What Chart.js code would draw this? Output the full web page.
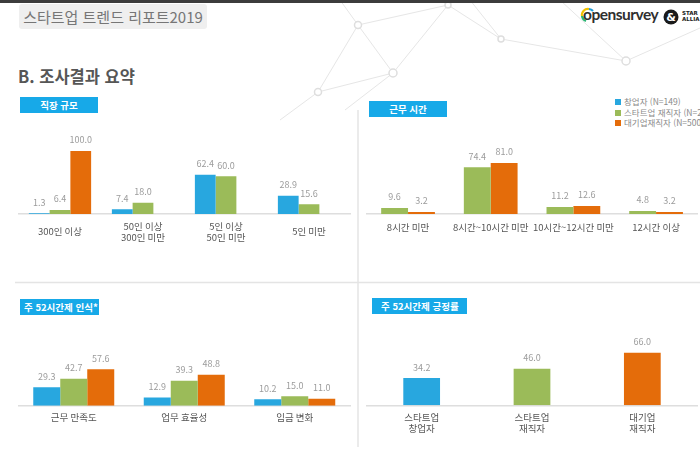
<!DOCTYPE html>
<html lang="ko">
<head>
<meta charset="utf-8">
<script src="https://cdn.jsdelivr.net/npm/chart.js@4.4.1/dist/chart.umd.min.js"></script>
<style>
  html, body { margin: 0; padding: 0; background: #fff; }
  body { width: 700px; height: 451px; position: relative; overflow: hidden;
         font-family: "Noto Sans CJK KR", "Noto Sans", sans-serif; }
  .abs { position: absolute; }
  #topbar { left: 0; top: 0; width: 700px; height: 3px; background: #3c3c3c; }
  #report { left: 19px; top: 4px; width: 188px; height: 25px; background: #efefef; border-radius: 3px;
            color: #767676; font-size: 15px; line-height: 25px; text-align: center; }
  #section { left: 18px; top: 64px; font-size: 16.5px; font-weight: bold; color: #565656; }
  .tag { background: #17a9e8; color: #fff; font-size: 9.5px; font-weight: bold; height: 16px; line-height: 16px; }
  .legend { left: 615px; top: 96px; font-size: 8.5px; color: #8a8a8a; white-space: nowrap; }
  .legend div { height: 10.5px; line-height: 10.5px; }
  .legend span { display: inline-block; width: 6px; height: 6px; margin-right: 3px; vertical-align: 0px; }
  .logo { left: 583px; top: 5px; font-family: "Lato", "Noto Sans", sans-serif; font-weight: bold;
          font-size: 15.5px; color: #2f2f2f; letter-spacing: -0.5px; }
</style>
</head>
<body>
<svg class="abs" style="left:0;top:0" width="700" height="451">
  <g stroke="#e6e6e6" stroke-width="1" fill="none">
    <line x1="340" y1="0" x2="358" y2="25"/>
    <line x1="358" y1="25" x2="393" y2="73"/>
    <line x1="393" y1="73" x2="448" y2="5"/>
    <line x1="448" y1="5" x2="501" y2="39"/>
    <line x1="501" y1="39" x2="626" y2="61"/>
    <line x1="626" y1="61" x2="700" y2="28"/>
    <line x1="318" y1="92" x2="393" y2="73"/>
    <line x1="318" y1="92" x2="358" y2="25"/>
    <line x1="280" y1="120" x2="318" y2="92"/>
    <line x1="358" y1="25" x2="448" y2="5"/>
    <line x1="470" y1="0" x2="501" y2="39"/>
    <line x1="560" y1="0" x2="626" y2="61"/>
    <line x1="345" y1="110" x2="393" y2="73"/>
  </g>
  <g stroke="#dedede" stroke-width="1.5" fill="#fff">
    <circle cx="358" cy="25" r="3.5"/>
    <circle cx="448" cy="5" r="3"/>
    <circle cx="393" cy="73" r="4"/>
    <circle cx="501" cy="39" r="3"/>
    <circle cx="626" cy="61" r="4"/>
    <circle cx="318" cy="92" r="3.5"/>
  </g>
  <line x1="15" y1="282.5" x2="700" y2="282.5" stroke="#e4e4e4" stroke-width="1.5"/>
  <line x1="358" y1="110" x2="358" y2="447" stroke="#e4e4e4" stroke-width="1.5"/>
  <!-- opensurvey mark -->
  <path d="M589 9 A6 6 0 0 0 582 16" stroke="#f2c200" stroke-width="2.2" fill="none"/>
  <path d="M582 16 A6 6 0 0 0 586 21" stroke="#2bb673" stroke-width="2.2" fill="none"/>
  <path d="M589 9 A6 6 0 0 1 593 11" stroke="#1e9bd7" stroke-width="2.2" fill="none"/>
  <circle cx="671" cy="17" r="7.5" fill="#1a1a1a"/>
  <text x="671" y="21" font-size="11" font-weight="bold" fill="#fff" text-anchor="middle" font-family="DejaVu Sans">&amp;</text>
  <text x="682" y="15" font-size="5.5" font-weight="bold" fill="#222" font-family="DejaVu Sans">STAR</text>
  <text x="682" y="21" font-size="5.5" font-weight="bold" fill="#222" font-family="DejaVu Sans">ALLIA</text>
</svg>
<div id="topbar" class="abs"></div>
<div id="report" class="abs">스타트업 트렌드 리포트2019</div>
<div class="abs logo">opensurvey</div>
<div id="section" class="abs">B. 조사결과 요약</div>

<div class="abs tag" style="left:20px;top:97px;width:78px;text-align:center">직장 규모</div>
<div class="abs tag" style="left:369px;top:101px;width:78px;text-align:center">근무 시간</div>
<div class="abs tag" style="left:20px;top:299px;width:75px;padding-left:4px">주 52시간제 인식*</div>
<div class="abs tag" style="left:372px;top:298px;width:86px;padding-left:9px">주 52시간제 긍정률</div>

<div id="legend" class="abs legend"></div>

<div class="abs" style="left:0;top:125px"><canvas id="c1" width="360" height="125"></canvas></div>
<div class="abs" style="left:360px;top:125px"><canvas id="c2" width="340" height="125"></canvas></div>
<div class="abs" style="left:0;top:325px"><canvas id="c3" width="360" height="120"></canvas></div>
<div class="abs" style="left:360px;top:325px"><canvas id="c4" width="340" height="120"></canvas></div>

<script>
// series
const seriesNames = ['창업자 (N=149)', '스타트업 재직자 (N=250)', '대기업재직자 (N=500)'];
const seriesColors = ['#28a7df', '#9bbb59', '#e46c0a'];

// 직장 규모
const sizeLabels = [['300인 이상'], ['50인 이상', '300인 미만'], ['5인 이상', '50인 미만'], ['5인 미만']];
const sizeFounder = [1.3, 7.4, 62.4, 28.9];
const sizeStartup = [6.4, 18.0, 60.0, 15.6];
const sizeLarge = [100.0, null, null, null];

// 근무 시간
const hoursLabels = ['8시간 미만', '8시간~10시간 미만', '10시간~12시간 미만', '12시간 이상'];
const hoursStartup = [9.6, 74.4, 11.2, 4.8];
const hoursLarge = [3.2, 81.0, 12.6, 3.2];

// 주 52시간제 인식
const perceptionLabels = ['근무 만족도', '업무 효율성', '임금 변화'];
const perceptionFounder = [29.3, 12.9, 10.2];
const perceptionStartup = [42.7, 39.3, 15.0];
const perceptionLarge = [57.6, 48.8, 11.0];

// 주 52시간제 긍정률
const positiveLabels = [['스타트업', '창업자'], ['스타트업', '재직자'], ['대기업', '재직자']];
const positiveValues = [34.2, 46.0, 66.0];

const FONT = '"Noto Sans CJK KR", "Noto Sans", sans-serif';

// legend
const legendEl = document.getElementById('legend');
seriesNames.forEach((name, i) => {
  const row = document.createElement('div');
  row.innerHTML = '<span style="background:' + seriesColors[i] + '"></span>' + name;
  legendEl.appendChild(row);
});

// numbers above bars
const valueLabels = {
  id: 'valueLabels',
  afterDatasetsDraw(chart) {
    const ctx = chart.ctx;
    ctx.save();
    ctx.font = '9px ' + FONT;
    ctx.fillStyle = '#9c9c9c';
    ctx.textAlign = 'center';
    ctx.textBaseline = 'middle';
    chart.data.datasets.forEach((ds, i) => {
      chart.getDatasetMeta(i).data.forEach((bar, j) => {
        const v = ds.data[j];
        if (v == null) return;
        ctx.fillText(v.toFixed(1), bar.x, bar.y - 11);
      });
    });
    ctx.restore();
  }
};

function makeChart(id, labels, datasets, o) {
  return new Chart(document.getElementById(id), {
    type: 'bar',
    data: { labels: labels, datasets: datasets },
    options: {
      responsive: false,
      animation: false,
      layout: { padding: { left: o.padLeft, right: o.padRight, top: 0, bottom: 0 } },
      plugins: { legend: { display: false }, tooltip: { enabled: false } },
      datasets: { bar: { categoryPercentage: o.cat, barPercentage: 1 } },
      scales: {
        x: {
          grid: { display: false },
          border: { display: true, color: '#dedede', width: 1.5 },
          ticks: {
            color: '#555', padding: o.tickPad, crossAlign: 'center',
            maxRotation: 0, autoSkip: false,
            font: { family: FONT, size: 9.5, lineHeight: 1.15 }
          },
          afterFit(scale) { scale.height = o.axisHeight; }
        },
        y: { display: false, min: 0, max: o.yMax }
      }
    },
    plugins: [valueLabels]
  });
}

makeChart('c1', sizeLabels, [
  { label: seriesNames[0], data: sizeFounder, backgroundColor: seriesColors[0] },
  { label: seriesNames[1], data: sizeStartup, backgroundColor: seriesColors[1] },
  { label: seriesNames[2], data: sizeLarge, backgroundColor: seriesColors[2] }
], { padLeft: 18.5, padRight: 9.5, cat: 0.75, tickPad: 4, axisHeight: 36, yMax: 141.3 });

makeChart('c2', hoursLabels, [
  { label: seriesNames[1], data: hoursStartup, backgroundColor: seriesColors[1] },
  { label: seriesNames[2], data: hoursLarge, backgroundColor: seriesColors[2] }
], { padLeft: 6.7, padRight: 2.6, cat: 0.65, tickPad: 5, axisHeight: 36, yMax: 141.3 });

makeChart('c3', perceptionLabels, [
  { label: seriesNames[0], data: perceptionFounder, backgroundColor: seriesColors[0] },
  { label: seriesNames[1], data: perceptionStartup, backgroundColor: seriesColors[1] },
  { label: seriesNames[2], data: perceptionLarge, backgroundColor: seriesColors[2] }
], { padLeft: 18.5, padRight: 10, cat: 0.733, tickPad: 4, axisHeight: 39.3, yMax: 127.7 });

makeChart('c4', positiveLabels, [
  { label: '긍정률', data: positiveValues, backgroundColor: seriesColors }
], { padLeft: 6.5, padRight: 2.5, cat: 0.333, tickPad: 4, axisHeight: 39.7, yMax: 101 });
</script>
</body>
</html>
